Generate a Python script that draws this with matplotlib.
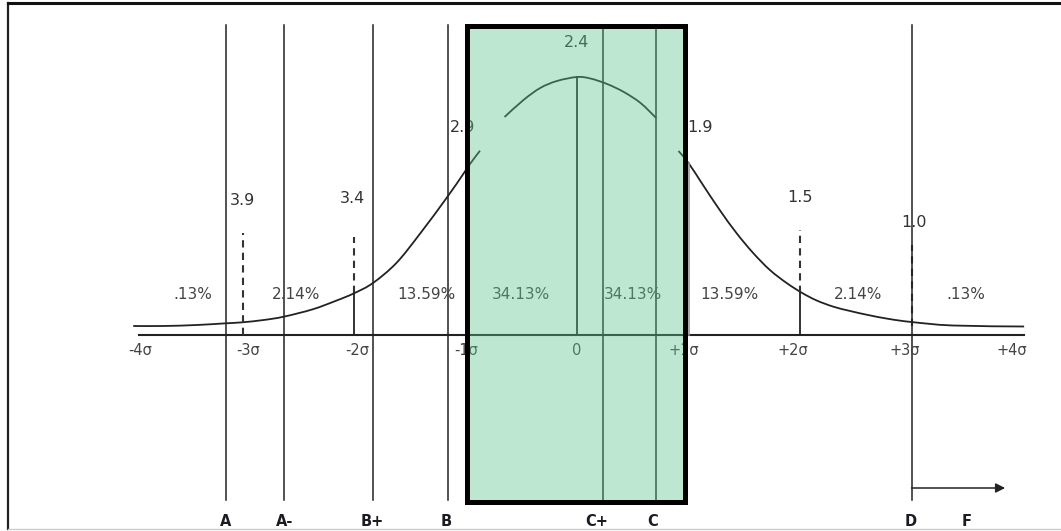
import numpy as np
import matplotlib
matplotlib.use("Agg")
from matplotlib import pyplot as plt
from matplotlib.patches import Rectangle, PathPatch
from matplotlib.path import Path

# x in sigma units, y = height of the drawing above the sigma axis
curve_left_x = [-3.98, -3.71, -3.41, -3.15, -3.00, -2.81, -2.63, -2.37, -2.16, -2.00,
                -1.83, -1.62, -1.41, -1.17, -1.02, -0.96, -0.87]
curve_left_y = [0.09, 0.09, 0.10, 0.117, 0.127, 0.15, 0.183, 0.257, 0.343, 0.417,
                0.52, 0.72, 1.01, 1.37, 1.61, 1.71, 1.843]
curve_mid_x = [-0.65, -0.48, -0.33, -0.18, 0.00, 0.12, 0.27, 0.42, 0.57, 0.71]
curve_mid_y = [2.18, 2.35, 2.47, 2.54, 2.58, 2.565, 2.51, 2.43, 2.32, 2.17]
curve_right_x = [0.91, 1.00, 1.13, 1.28, 1.43, 1.58, 1.73, 1.88, 2.02, 2.15,
                 2.30, 2.45, 2.61, 2.80, 3.00, 3.37, 4.01]
curve_right_y = [1.84, 1.72, 1.50, 1.25, 1.02, 0.82, 0.65, 0.52, 0.42, 0.345,
                 0.283, 0.24, 0.20, 0.16, 0.13, 0.095, 0.085]

# sigma axis
sigma_ticks = [-4, -3, -2, -1, 0, 1, 2, 3, 4]
sigma_label_x = [-3.92, -2.95, -1.97, -0.99, 0.0, 0.96, 1.94, 2.94, 3.90]
sigma_labels = ["-4\u03c3", "-3\u03c3", "-2\u03c3", "-1\u03c3", "0",
                "+1\u03c3", "+2\u03c3", "+3\u03c3", "+4\u03c3"]
axis_x = [-3.93, 4.01]

# area percentages
pct_x = [-3.45, -2.52, -1.35, -0.50, 0.50, 1.37, 2.52, 3.49]
pct_labels = [".13%", "2.14%", "13.59%", "34.13%", "34.13%", "13.59%", "2.14%", ".13%"]

# GPA values above the marker positions
gpa_x = [-3.00, -2.01, -1.03, 0.00, 1.10, 2.00, 3.02]
gpa_y = [1.34, 1.36, 2.07, 2.92, 2.07, 1.37, 1.12]
gpa_labels = ["3.9", "3.4", "2.9", "2.4", "1.9", "1.5", "1.0"]

# dashed markers (x, top, bottom), solid drops (x, curve height)
dash_x = [-3.0, -2.0, 2.0, 3.0]
dash_top = [1.02, 0.98, 1.05, 0.90]
dash_bot = [0.0, 0.417, 0.42, 0.09]
drop_x = [-2.0, 0.0, 2.0]
drop_top = [0.417, 2.58, 0.42]

# grade boundaries
grade_x = [-3.15, -2.63, -1.83, -1.16, 0.23, 0.71, 3.00]
grade_label_x = [-3.15, -2.62, -1.84, -1.17, 0.18, 0.68, 2.99, 3.49]
grade_labels = ["A", "A-", "B+", "B", "C+", "C", "D", "F"]
line_top, line_bot = 3.10, -1.65

# C band box
box_x = [-0.99, 0.97]
box_y = [-1.67, 3.086]


def smooth_path(xs, ys):
    # Catmull-Rom through the read points, drawn as cubic bezier pieces
    pts = np.column_stack([xs, ys])
    verts = [pts[0]]
    codes = [Path.MOVETO]
    for i in range(len(pts) - 1):
        p0 = pts[i - 1] if i > 0 else pts[i]
        p1, p2 = pts[i], pts[i + 1]
        p3 = pts[i + 2] if i + 2 < len(pts) else pts[i + 1]
        verts += [p1 + (p2 - p0) / 6, p2 - (p3 - p1) / 6, p2]
        codes += [Path.CURVE4] * 3
    return Path(verts, codes)


fig = plt.figure(figsize=(10.61, 5.31), dpi=100)
W, H = 1061, 531
ax = fig.add_axes([8 / W, 2 / H, 1 - 8 / W, 526 / H])
ax.set_xlim((8 - 577) / 111.5, (1061 - 577) / 111.5)
ax.set_ylim(-1.94, 3.32)
ax.set_xticks([])
ax.set_yticks([])
ax.spines["right"].set_visible(False)
ax.spines["top"].set_linewidth(2.2)
ax.spines["top"].set_color("#111111")
ax.spines["left"].set_linewidth(1.6)
ax.spines["left"].set_color("#222222")
ax.spines["bottom"].set_linewidth(1.0)
ax.spines["bottom"].set_color("#cccccc")

ink = "#222222"
# sigma axis and curve
ax.plot(axis_x, [0, 0], color=ink, lw=1.5, zorder=2)
for cx, cy in [(curve_left_x, curve_left_y), (curve_mid_x, curve_mid_y),
               (curve_right_x, curve_right_y)]:
    ax.add_patch(PathPatch(smooth_path(cx, cy), facecolor="none",
                           edgecolor=ink, lw=1.3, zorder=2))

for x, t, b in zip(dash_x, dash_top, dash_bot):
    ax.plot([x, x], [b, t], color="#333333", lw=1.5, ls=(0, (3.5, 2.5)), zorder=2)
for x, t in zip(drop_x, drop_top):
    ax.plot([x, x], [0, t], color=ink, lw=1.3, zorder=2)
ax.plot([1.0, 1.0], [0, 1.72], color="#999999", lw=1.2, zorder=2)

for x in grade_x:
    ax.plot([x, x], [line_bot, line_top], color=ink, lw=1.1, zorder=2)
ax.annotate("", xy=(3.84, -1.53), xytext=(grade_x[-1], -1.53),
            arrowprops=dict(arrowstyle="-|>", color=ink, lw=1.1,
                            mutation_scale=14, shrinkA=0, shrinkB=0), zorder=2)

# texts
for x, lab in zip(sigma_label_x, sigma_labels):
    ax.text(x, -0.155, lab, ha="center", va="center", fontsize=10.5,
            color="#444444", zorder=2)
for x, lab in zip(pct_x, pct_labels):
    ax.text(x, 0.405, lab, ha="center", va="center", fontsize=11,
            color="#444444", zorder=2)
for x, y, lab in zip(gpa_x, gpa_y, gpa_labels):
    ax.text(x, y, lab, ha="center", va="center", fontsize=11.5,
            color="#333333", zorder=2)
for x, lab in zip(grade_label_x, grade_labels):
    ax.text(x, -1.86, lab, ha="center", va="center", fontsize=10.5,
            fontweight="bold", color="#1e1a22", zorder=2)

# green C band, drawn over lines, then its heavy frame
ax.add_patch(Rectangle((box_x[0], box_y[0]), box_x[1] - box_x[0], box_y[1] - box_y[0],
                       facecolor="#5ac58e", alpha=0.4, edgecolor="none", zorder=3))
ax.add_patch(Rectangle((box_x[0], box_y[0]), box_x[1] - box_x[0], box_y[1] - box_y[0],
                       facecolor="none", edgecolor="black", lw=3.6, zorder=4))

plt.savefig("out.png", dpi=100)
